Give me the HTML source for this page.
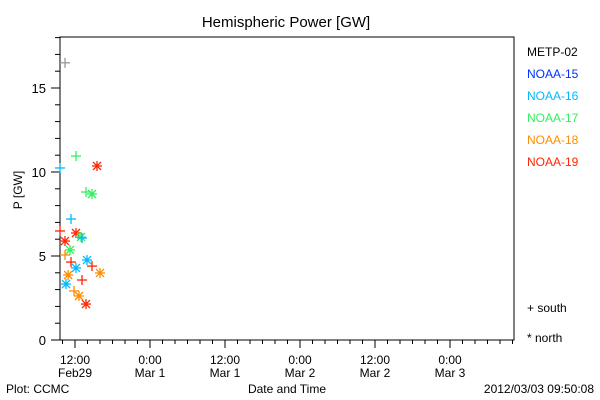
<!DOCTYPE html>
<html><head><meta charset="utf-8"><style>
body{margin:0;background:#fff;}
svg{display:block;font-family:"Liberation Sans",sans-serif;}
</style></head><body>
<svg id="chart" width="600" height="400" xmlns="http://www.w3.org/2000/svg">
<text x="286" y="27" font-size="15" text-anchor="middle">Hemispheric Power [GW]</text>
<text x="22" y="190" font-size="12" text-anchor="middle" transform="rotate(-90 22 190)">P [GW]</text>
<text x="287" y="393" font-size="12" text-anchor="middle">Date and Time</text>
<text x="6" y="393" font-size="12">Plot: CCMC</text>
<text x="594" y="393" font-size="12" text-anchor="end">2012/03/03 09:50:08</text>
<text x="527" y="312" font-size="12">+ south</text>
<text x="527" y="342" font-size="12">* north</text>
<g id="axes"></g><g id="legend"></g><g id="marks"></g>
</svg>
<script>
const satNames=["METP-02","NOAA-15","NOAA-16","NOAA-17","NOAA-18","NOAA-19"];
const satColors=["#999999","#0030ff","#00b8ff","#30f060","#ff8c00","#ff2400"];
const yTicks=[0,5,10,15];
const xTickHours=[12,24,36,48,60,72];
const xTickTop=["12:00","0:00","12:00","0:00","12:00","0:00"];
const xTickBottom=["Feb29","Mar 1","Mar 1","Mar 2","Mar 2","Mar 3"];
// hours since Feb29 00:00
const ptHours=[10.4,9.6,12.16,15.52,13.76,14.72,11.36,9.6,12.16,10.4,12.96,13.12,11.2,10.4,11.36,13.92,12.16,14.72,10.9,16.0,13.12,10.56,11.84,12.64,13.76];
const ptValues=[16.5,10.24,10.95,10.36,8.81,8.69,7.2,6.49,6.37,5.89,6.13,6.07,5.36,5.06,4.64,4.76,4.29,4.40,3.87,3.99,3.57,3.33,2.92,2.62,2.14];
const ptSat=[0,2,3,5,3,3,2,5,5,5,3,2,3,4,5,2,2,5,4,4,5,2,4,4,5];
const ptHemi=["s","s","s","n","s","n","s","s","n","n","n","s","n","s","s","n","n","s","n","n","s","n","s","n","n"];
const NS="http://www.w3.org/2000/svg";
const L=60,R=514,T=37,B=340,H0=9.6,HPX=6.25,VPX=16.8;
const xS=h=>L+(h-H0)*HPX, yS=v=>B-v*VPX;
function mk(t,a,p){const e=document.createElementNS(NS,t);for(const k in a)e.setAttribute(k,a[k]);p.appendChild(e);return e;}
const ax=document.getElementById('axes');
const frame=mk('rect',{x:L,y:T,width:R-L,height:B-T,fill:'none',stroke:'#000','stroke-width':1},ax);


for(let v=0;v<=18;v++){const y=yS(v);const big=v%5===0;
 const t=mk('line',{x1:L-(big?9:5),x2:L,y1:y,y2:y,stroke:'#000'},ax);
 
 }
yTicks.forEach(v=>{const t=mk('text',{x:L-14,y:yS(v)+5,'font-size':13,'text-anchor':'end'},ax);t.textContent=v;
 
 });
for(let h=10;h<=82;h+=2){const x=xS(h);if(x>R)break;const big=h%12===0;
 const t=mk('line',{x1:x,x2:x,y1:B,y2:B+(big?8:4),stroke:'#000'},ax);
 
 }
xTickHours.forEach((h,i)=>{const x=xS(h);
 const a=mk('text',{x:x,y:B+24,'font-size':12,'text-anchor':'middle'},ax);a.textContent=xTickTop[i];
 
 
 const b=mk('text',{x:x,y:B+37,'font-size':12,'text-anchor':'middle'},ax);b.textContent=xTickBottom[i];
 
 });
const lg=document.getElementById('legend');
satNames.forEach((n,i)=>{const t=mk('text',{x:527,y:56+i*22,'font-size':12,fill:satColors[i]==='#999999'?'#000':satColors[i]},lg);t.textContent=n;
 
 });
const mg=document.getElementById('marks');
ptHours.forEach((h,i)=>{const x=xS(h),y=yS(ptValues[i]),c=satColors[ptSat[i]];
 const g=mk('g',{stroke:c,'stroke-width':1.3},mg);
 
 
 mk('line',{x1:x-5,x2:x+5,y1:y,y2:y},g);mk('line',{x1:x,x2:x,y1:y-5,y2:y+5},g);
 if(ptHemi[i]==='n'){mk('line',{x1:x-4,x2:x+4,y1:y-4,y2:y+4},g);mk('line',{x1:x-4,x2:x+4,y1:y+4,y2:y-4},g);}
});
</script>
</body></html>
